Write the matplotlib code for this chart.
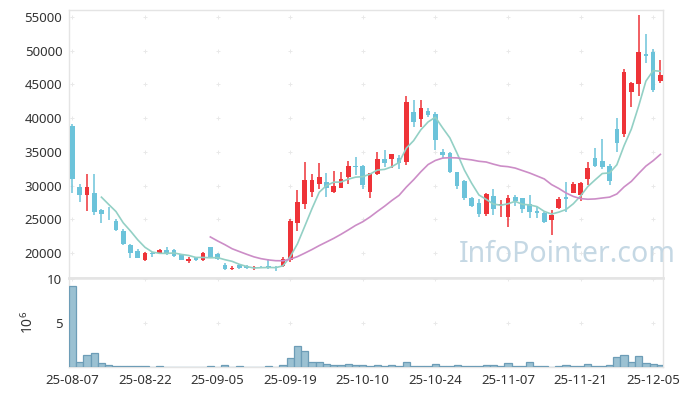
import matplotlib
matplotlib.use("Agg")
import matplotlib.pyplot as plt
import pandas as pd

plt.rcParams['font.family'] = ['Noto Sans', 'DejaVu Sans']

# daily OHLC (KRW), 2025-08-07 .. 2025-12-08
opens = [38800, 29800, 28650, 28900, 26400, 25650, 24750, 23250, 21200, 20300,
         19000, 19950, 20050, 20400, 20450, 19800, 18800, 19350, 18950, 20900,
         19800, 18200, 17600, 18150, 18000, 17700, 17950, 18050, 17950, 18050,
         18900, 24500, 27300, 29100, 30300, 30500, 29100, 29700, 31200, 32900,
         32900, 29000, 31750, 33950, 33950, 34100, 33550, 40900, 39850, 41050,
         40600, 35000, 34800, 32000, 30700, 28150, 27450, 25850, 28450, 27150,
         25400, 28250, 28150, 27200, 26200, 25950, 24950, 26700, 28300, 28950,
         28650, 31000, 34100, 33650, 32950, 38400, 37600, 43900, 45100, 49550,
         49800, 45500]
highs = [39200, 30300, 31700, 31700, 26550, 26800, 25000, 23600, 21400, 20600,
         20200, 20200, 20650, 20900, 20600, 19850, 19350, 19450, 20150, 20950,
         19950, 18500, 18050, 18300, 18150, 18100, 18050, 19050, 18050, 19400,
         25000, 29350, 33450, 31650, 33300, 31800, 32150, 32000, 33650, 34200,
         33050, 31900, 35000, 35250, 34700, 34500, 43300, 42700, 42700, 41550,
         40900, 35400, 35000, 32050, 30900, 28300, 27950, 28900, 29450, 27850,
         28550, 28550, 28200, 28550, 26750, 26150, 26400, 28350, 30500, 30500,
         30550, 33450, 35550, 36950, 33200, 40000, 47300, 45350, 55250, 52500,
         50300, 48600]
lows = [28850, 27500, 26200, 25700, 24400, 24900, 23300, 21200, 19200, 19200,
        18850, 19450, 19850, 19750, 19450, 18900, 18450, 18800, 18800, 19300,
        18950, 17450, 17450, 17650, 17600, 17550, 17700, 17650, 17400, 17950,
        18700, 23200, 26500, 28350, 29550, 28350, 28850, 29650, 30200, 31550,
        29500, 28100, 31550, 32750, 32600, 32400, 33050, 38750, 38750, 40200,
        35300, 34050, 31800, 29450, 27800, 26750, 25300, 25550, 25600, 25300,
        23900, 27000, 26000, 25250, 25150, 24450, 22600, 26500, 26100, 28900,
        27750, 30150, 32800, 32400, 30150, 35000, 37150, 41700, 43250, 48150,
        43900, 45250]
closes = [31000, 28650, 29800, 26100, 25850, 25600, 23400, 21400, 20050, 19300,
          20050, 19900, 20450, 20000, 19600, 19000, 19150, 18950, 20000, 19350,
          19100, 17650, 17700, 17800, 17750, 17950, 17900, 17850, 17700, 19050,
          24700, 27500, 30800, 30800, 31250, 29700, 29950, 30950, 32900, 32750,
          30050, 31850, 33950, 33400, 34700, 33300, 42400, 39500, 41500, 40500,
          36800, 34500, 32050, 30000, 28150, 27000, 25850, 28750, 26550, 27250,
          28100, 27650, 26550, 26100, 26000, 24550, 25650, 28000, 28050, 30250,
          30350, 32600, 32950, 32800, 30700, 36350, 46850, 45200, 49800, 49250,
          44150, 46400]
# volume in millions of shares
volumes = [9.2, 0.53, 1.33, 1.59, 0.42, 0.19, 0.08, 0.08, 0.08, 0.08,
           0.08, 0.03, 0.08, 0.03, 0.03, 0.03, 0.03, 0.03, 0.03, 0.08,
           0.03, 0.19, 0.03, 0.08, 0.03, 0.03, 0.03, 0.08, 0.03, 0.19,
           0.98, 2.35, 1.82, 0.53, 0.53, 0.3, 0.19, 0.19, 0.3, 0.19,
           0.19, 0.08, 0.19, 0.08, 0.19, 0.08, 0.53, 0.08, 0.08, 0.08,
           0.3, 0.08, 0.08, 0.19, 0.08, 0.08, 0.08, 0.19, 0.19, 0.08,
           0.42, 0.08, 0.08, 0.53, 0.08, 0.08, 0.01, 0.08, 0.19, 0.08,
           0.08, 0.3, 0.08, 0.08, 0.19, 1.1, 1.33, 0.53, 1.21, 0.42,
           0.3, 0.19]
tick_pos = [0, 10, 20, 30, 40, 50, 60, 70, 80]
tick_labels = ['25-08-07', '25-08-22', '25-09-05', '25-09-19', '25-10-10',
               '25-10-24', '25-11-07', '25-11-21', '25-12-05']
price_ticks = [20000, 25000, 30000, 35000, 40000, 45000, 50000, 55000]
vol_ticks = [5, 10]

UP = '#ee3338'
DOWN = '#6cc3da'
TXT = '#333333'
FRAME = '#e4e4e4'

fig = plt.figure(figsize=(6.93, 3.96), dpi=100)
W, H = 693, 396
left, right = 69.3, 663.3
ax = fig.add_axes([left / W, 1 - 278 / H, (right - left) / W, (278 - 10.3) / H])
axv = fig.add_axes([left / W, 1 - 367 / H, (right - left) / W, (367 - 278) / H])

x = list(range(len(closes)))
body_w = 0.64
for i in x:
    o, h, l, c = opens[i], highs[i], lows[i], closes[i]
    col = UP if c > o else DOWN
    ax.vlines(i, l, h, color=col, lw=1.1, zorder=3)
    bottom = min(o, c)
    height = max(abs(c - o), 60)
    ax.bar(i, height, bottom=bottom, width=body_w, color=col, zorder=4)

s = pd.Series(closes)
ax.plot(x, s.rolling(5).mean(), color='#93d0c5', lw=1.2, zorder=5)
ax.plot(x, s.rolling(20).mean(), color='#cc8dc7', lw=1.2, zorder=5)

axv.bar(x, volumes, width=1.0, color='#9bc1d2', edgecolor='#6d9db7', lw=0.9, zorder=3)

xlim = (-0.43, 81.4)
for a in (ax, axv):
    a.set_xlim(*xlim)
    for sp in a.spines.values():
        sp.set_color(FRAME)
        sp.set_linewidth(1.0)
    a.tick_params(length=0, colors=TXT, labelsize=9.5, pad=5)

ax.set_ylim(16290, 56000)
ax.set_yticks(price_ticks)
ax.set_xticks([])
ax.spines['bottom'].set_linewidth(1.8)
axv.spines['top'].set_linewidth(1.8)

axv.set_ylim(0, 10.1)
axv.set_yticks(vol_ticks)
axv.set_xticks(tick_pos)
axv.set_xticklabels(tick_labels)
axv.set_ylabel(r'$\mathregular{10^6}$', color=TXT, fontsize=10)
axv.yaxis.set_label_coords(-0.054, 0.5)

# faint "+" grid markers
gx = [p for p in tick_pos for _ in price_ticks]
gy = [t for _ in tick_pos for t in price_ticks]
ax.scatter(gx, gy, marker='+', s=10, color='#e9e9e9', lw=0.7, zorder=1)
gx = [p for p in tick_pos for _ in vol_ticks]
gy = [t for _ in tick_pos for t in vol_ticks]
axv.scatter(gx, gy, marker='+', s=10, color='#e9e9e9', lw=0.7, zorder=1, clip_on=False)

fig.text(567 / W, 1 - 255 / H, 'InfoPointer.com', ha='center', va='center',
         fontsize=20.5, color='#c5d8e4', zorder=10)

fig.savefig('out.png', dpi=100)
